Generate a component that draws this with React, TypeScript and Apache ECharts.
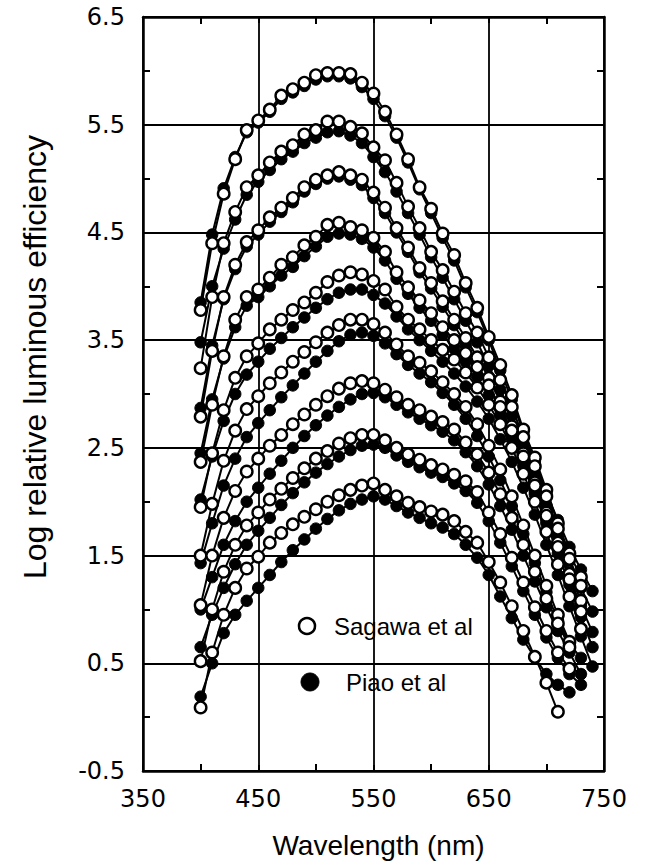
import { useEffect, useRef } from "react";
import * as echarts from "echarts";

// Wavelengths (nm) at which points are drawn (10 nm steps)
const wavelengths = [
  400, 410, 420, 430, 440, 450, 460, 470, 480, 490, 500, 510, 520, 530, 540, 550, 560, 570,
  580, 590, 600, 610, 620, 630, 640, 650, 660, 670, 680, 690, 700, 710, 720, 730, 740,
];

// Sagawa et al (open circles)
const sagawa1 = [3.78, 4.40, 4.86, 5.18, 5.45, 5.54, 5.64, 5.77, 5.83, 5.89, 5.96, 5.98, 5.98, 5.97, 5.89, 5.79, 5.62, 5.41, 5.18, 4.92, 4.72, 4.49, 4.29, 4.03, 3.80, 3.53, 3.27, 2.99, 2.67, 2.41, 2.11, 1.80, 1.52, 1.30];
const sagawa2 = [3.24, 3.90, 4.40, 4.69, 4.92, 5.03, 5.15, 5.25, 5.31, 5.41, 5.45, 5.53, 5.53, 5.48, 5.42, 5.29, 5.17, 4.96, 4.74, 4.54, 4.32, 4.15, 3.95, 3.75, 3.57, 3.34, 3.13, 2.88, 2.60, 2.33, 2.05, 1.75, 1.47, 1.22];
const sagawa3 = [2.79, 3.40, 3.90, 4.20, 4.41, 4.52, 4.64, 4.73, 4.82, 4.92, 4.99, 5.03, 5.06, 5.03, 4.99, 4.87, 4.73, 4.54, 4.36, 4.17, 4.03, 3.86, 3.69, 3.52, 3.34, 3.15, 2.93, 2.70, 2.45, 2.18, 1.90, 1.62, 1.33, 1.08];
const sagawa4 = [2.37, 2.90, 3.35, 3.69, 3.90, 3.97, 4.08, 4.20, 4.27, 4.38, 4.46, 4.57, 4.59, 4.55, 4.52, 4.45, 4.32, 4.13, 3.99, 3.87, 3.75, 3.62, 3.50, 3.38, 3.25, 3.08, 2.88, 2.66, 2.42, 2.15, 1.87, 1.58, 1.28, 0.98];
const sagawa5 = [1.95, 2.45, 2.85, 3.15, 3.35, 3.47, 3.60, 3.69, 3.78, 3.85, 3.94, 4.04, 4.10, 4.13, 4.11, 4.05, 3.97, 3.81, 3.69, 3.60, 3.50, 3.41, 3.32, 3.20, 3.06, 2.90, 2.72, 2.50, 2.26, 2.00, 1.72, 1.42, 1.12, 0.82];
const sagawa6 = [1.50, 1.98, 2.38, 2.66, 2.86, 2.98, 3.10, 3.20, 3.30, 3.39, 3.48, 3.57, 3.64, 3.69, 3.69, 3.65, 3.57, 3.46, 3.35, 3.29, 3.21, 3.11, 3.00, 2.88, 2.72, 2.52, 2.30, 2.05, 1.78, 1.50, 1.22, 0.95, 0.70];
const sagawa7 = [1.04, 1.50, 1.85, 2.10, 2.28, 2.40, 2.52, 2.62, 2.72, 2.81, 2.90, 2.98, 3.05, 3.10, 3.12, 3.10, 3.04, 2.97, 2.90, 2.85, 2.79, 2.74, 2.67, 2.55, 2.44, 2.27, 2.07, 1.85, 1.60, 1.35, 1.10, 0.87, 0.65];
const sagawa8 = [0.52, 1.00, 1.35, 1.60, 1.78, 1.90, 2.02, 2.12, 2.22, 2.31, 2.40, 2.47, 2.54, 2.59, 2.62, 2.62, 2.57, 2.50, 2.44, 2.39, 2.34, 2.30, 2.25, 2.19, 2.09, 1.90, 1.70, 1.48, 1.25, 1.02, 0.80, 0.60, 0.45];
const sagawa9 = [0.09, 0.60, 0.95, 1.20, 1.38, 1.49, 1.62, 1.71, 1.79, 1.86, 1.93, 2.00, 2.06, 2.11, 2.15, 2.17, 2.11, 2.05, 1.99, 1.95, 1.91, 1.88, 1.82, 1.72, 1.62, 1.44, 1.25, 1.03, 0.80, 0.56, 0.32, 0.05];

// Piao et al (filled circles)
const piao1 = [3.85, 4.48, 4.91, 5.20, 5.43, 5.52, 5.62, 5.74, 5.80, 5.86, 5.92, 5.95, 5.95, 5.93, 5.85, 5.74, 5.58, 5.38, 5.15, 4.90, 4.68, 4.45, 4.24, 3.99, 3.76, 3.50, 3.22, 2.95, 2.64, 2.37, 2.08, 1.83, 1.58, 1.37, 1.17];
const piao2 = [3.48, 4.00, 4.35, 4.62, 4.85, 4.97, 5.08, 5.18, 5.25, 5.33, 5.38, 5.43, 5.44, 5.40, 5.33, 5.20, 5.06, 4.88, 4.68, 4.48, 4.27, 4.08, 3.88, 3.68, 3.48, 3.26, 3.04, 2.80, 2.53, 2.25, 1.97, 1.70, 1.45, 1.20, 0.98];
const piao3 = [2.87, 3.45, 3.88, 4.16, 4.37, 4.48, 4.60, 4.69, 4.78, 4.88, 4.95, 5.00, 5.02, 4.99, 4.94, 4.82, 4.68, 4.50, 4.32, 4.13, 3.98, 3.81, 3.64, 3.46, 3.28, 3.08, 2.86, 2.62, 2.37, 2.10, 1.83, 1.56, 1.30, 1.03, 0.79];
const piao4 = [2.45, 2.95, 3.33, 3.62, 3.82, 3.90, 4.00, 4.10, 4.18, 4.28, 4.37, 4.46, 4.49, 4.48, 4.44, 4.36, 4.24, 4.07, 3.93, 3.80, 3.68, 3.55, 3.42, 3.30, 3.16, 2.99, 2.80, 2.58, 2.33, 2.07, 1.80, 1.52, 1.23, 0.93, 0.65];
const piao5 = [2.02, 2.42, 2.75, 3.00, 3.18, 3.30, 3.42, 3.52, 3.62, 3.71, 3.80, 3.88, 3.94, 3.97, 3.97, 3.92, 3.84, 3.72, 3.60, 3.50, 3.40, 3.30, 3.19, 3.07, 2.93, 2.77, 2.58, 2.37, 2.13, 1.88, 1.60, 1.32, 1.03, 0.75, 0.47];
const piao6 = [1.43, 1.80, 2.15, 2.40, 2.60, 2.73, 2.85, 2.97, 3.08, 3.19, 3.30, 3.40, 3.49, 3.55, 3.57, 3.54, 3.47, 3.37, 3.27, 3.19, 3.11, 3.01, 2.90, 2.77, 2.61, 2.42, 2.20, 1.96, 1.70, 1.43, 1.16, 0.90, 0.68, 0.55];
const piao7 = [1.00, 1.30, 1.60, 1.82, 2.00, 2.13, 2.26, 2.38, 2.50, 2.61, 2.71, 2.80, 2.88, 2.95, 3.00, 3.01, 2.97, 2.90, 2.83, 2.77, 2.71, 2.65, 2.57, 2.46, 2.33, 2.16, 1.96, 1.74, 1.50, 1.26, 1.02, 0.80, 0.60, 0.40];
const piao8 = [0.65, 0.95, 1.20, 1.42, 1.60, 1.73, 1.85, 1.97, 2.08, 2.18, 2.27, 2.35, 2.42, 2.48, 2.52, 2.53, 2.50, 2.43, 2.37, 2.32, 2.27, 2.23, 2.17, 2.10, 1.99, 1.82, 1.62, 1.40, 1.17, 0.95, 0.74, 0.55, 0.40, 0.30];
const piao9 = [0.19, 0.50, 0.78, 0.95, 1.08, 1.20, 1.32, 1.44, 1.55, 1.65, 1.75, 1.84, 1.92, 1.98, 2.02, 2.05, 2.02, 1.96, 1.90, 1.85, 1.80, 1.76, 1.70, 1.60, 1.48, 1.32, 1.12, 0.92, 0.72, 0.55, 0.40, 0.30, 0.23];

const sagawaCurves = [sagawa1, sagawa2, sagawa3, sagawa4, sagawa5, sagawa6, sagawa7, sagawa8, sagawa9];
const piaoCurves = [piao1, piao2, piao3, piao4, piao5, piao6, piao7, piao8, piao9];

const xMin = 350;
const xMax = 750;
const yMin = -0.5;
const yMax = 6.5;

function toPoints(values: number[]) {
  return values.map((v, i) => [wavelengths[i], v]);
}

export default function App() {
  const ref = useRef<HTMLDivElement>(null);

  useEffect(() => {
    if (!ref.current) return;
    const chart = echarts.init(ref.current, null, { renderer: "svg" });
    const black = "#000";
    const lineStyle = { color: black, width: 2 };

    const piaoSeries = piaoCurves.map((vals, k) => ({
      type: "line",
      name: "Piao et al",
      id: "piao" + k,
      data: toPoints(vals),
      symbol: "circle",
      symbolSize: 11.5,
      showAllSymbol: true,
      lineStyle,
      itemStyle: { color: black, borderColor: black, borderWidth: 1 },
      z: 2,
      silent: true,
    }));
    const sagawaSeries = sagawaCurves.map((vals, k) => ({
      type: "line",
      name: "Sagawa et al",
      id: "sagawa" + k,
      data: toPoints(vals),
      symbol: "circle",
      symbolSize: 11.5,
      showAllSymbol: true,
      lineStyle,
      itemStyle: { color: "#fff", borderColor: black, borderWidth: 2.4 },
      z: 3,
      silent: true,
    }));

    const axisLine = { show: true, onZero: false, lineStyle: { color: black, width: 2.5 } };
    const axisTick = { show: true, inside: true, length: 6, lineStyle: { color: black, width: 2 } };
    const minorTick = { show: true, splitNumber: 2, length: 7, lineStyle: { color: black, width: 2 } };
    const splitLine = { show: true, lineStyle: { color: black, width: 1.8 } };

    chart.setOption({
      animation: false,
      backgroundColor: "#fff",
      grid: { left: 143, top: 17, width: 461, height: 756, containLabel: false },
      xAxis: [
        {
          type: "value",
          position: "bottom",
          min: xMin,
          max: xMax,
          interval: 100,
          axisLine,
          axisTick,
          minorTick,
          splitLine,
          axisLabel: { color: black, fontFamily: "DejaVu Sans", fontSize: 24, margin: 16 },
          name: "Wavelength (nm)",
          nameLocation: "middle",
          nameGap: 60,
          nameTextStyle: {
            color: black,
            fontFamily: "Liberation Sans",
            fontSize: 28,
            padding: [0, 0, 0, 10],
          },
        },
        {
          type: "value",
          position: "top",
          min: xMin,
          max: xMax,
          interval: 100,
          axisLine,
          axisTick,
          minorTick,
          splitLine: { show: false },
          axisLabel: { show: false },
        },
      ],
      yAxis: [
        {
          type: "value",
          position: "left",
          min: yMin,
          max: yMax,
          interval: 1,
          axisLine,
          axisTick,
          minorTick,
          splitLine,
          axisLabel: {
            color: black,
            fontFamily: "DejaVu Sans",
            fontSize: 24,
            margin: 18,
            padding: [16, 0, 0, 0],
            formatter: (v: number) => v.toFixed(1),
          },
        },
        {
          type: "value",
          position: "right",
          min: yMin,
          max: yMax,
          interval: 1,
          axisLine,
          axisTick,
          minorTick,
          splitLine: { show: false },
          axisLabel: { show: false },
        },
      ],
      graphic: [
        {
          type: "text",
          x: 35,
          y: 357,
          rotation: Math.PI / 2,
          style: {
            text: "Log relative luminous efficiency",
            fontFamily: "Liberation Sans",
            fontSize: 32,
            fill: black,
            textAlign: "center",
            textVerticalAlign: "middle",
          },
        },
        {
          type: "circle",
          shape: { cx: 307, cy: 626, r: 8 },
          style: { fill: "#fff", stroke: black, lineWidth: 2.5 },
          z: 10,
        },
        {
          type: "text",
          x: 334,
          y: 626,
          style: {
            text: "Sagawa et al",
            fontFamily: "Liberation Sans",
            fontSize: 24,
            fill: black,
            textVerticalAlign: "middle",
          },
          z: 10,
        },
        {
          type: "circle",
          shape: { cx: 310, cy: 682, r: 9 },
          style: { fill: black, stroke: black, lineWidth: 1 },
          z: 10,
        },
        {
          type: "text",
          x: 346,
          y: 682,
          style: {
            text: "Piao et al",
            fontFamily: "Liberation Sans",
            fontSize: 24,
            fill: black,
            textVerticalAlign: "middle",
          },
          z: 10,
        },
      ],
      series: [...piaoSeries, ...sagawaSeries],
    });

    return () => chart.dispose();
  }, []);

  return (
    <div
      ref={ref}
      style={{ position: "absolute", left: 0, top: 0, width: 652, height: 864, background: "#fff" }}
    />
  );
}
